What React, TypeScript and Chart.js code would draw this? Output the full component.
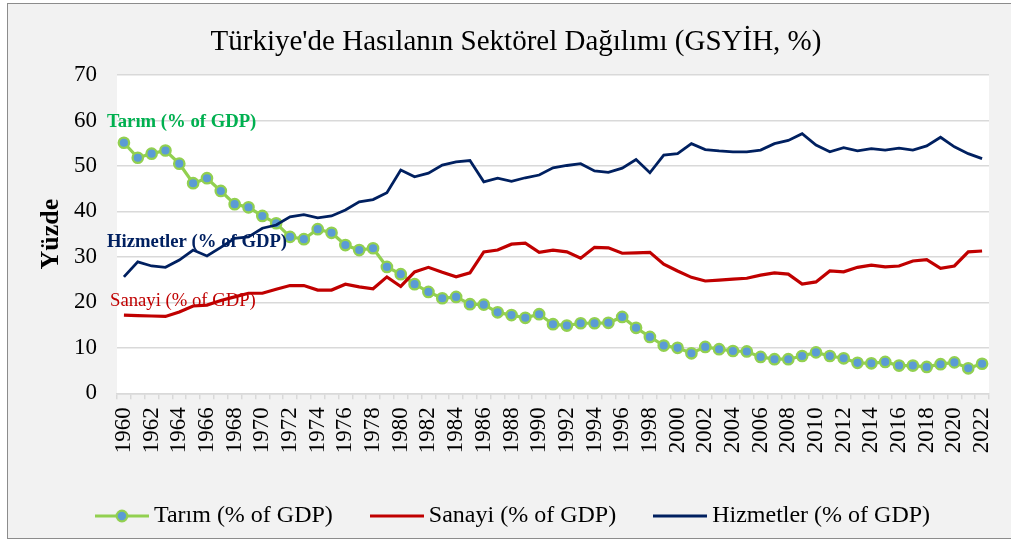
import React, { useEffect, useRef } from "react";
import { Chart, registerables } from "chart.js";

Chart.register(...registerables);

const years = [
  "1960", "1961", "1962", "1963", "1964", "1965", "1966", "1967", "1968", "1969",
  "1970", "1971", "1972", "1973", "1974", "1975", "1976", "1977", "1978", "1979",
  "1980", "1981", "1982", "1983", "1984", "1985", "1986", "1987", "1988", "1989",
  "1990", "1991", "1992", "1993", "1994", "1995", "1996", "1997", "1998", "1999",
  "2000", "2001", "2002", "2003", "2004", "2005", "2006", "2007", "2008", "2009",
  "2010", "2011", "2012", "2013", "2014", "2015", "2016", "2017", "2018", "2019",
  "2020", "2021", "2022",
];

const tarim = [
  55.1, 51.8, 52.7, 53.4, 50.5, 46.2, 47.3, 44.5, 41.6, 40.9,
  39.0, 37.4, 34.4, 33.9, 36.1, 35.3, 32.6, 31.5, 31.9, 27.8,
  26.2, 24.0, 22.3, 20.9, 21.2, 19.6, 19.5, 17.8, 17.2, 16.6,
  17.4, 15.2, 14.9, 15.4, 15.4, 15.5, 16.8, 14.4, 12.4, 10.5,
  10.0, 8.8, 10.2, 9.7, 9.3, 9.2, 8.0, 7.5, 7.5, 8.2,
  9.0, 8.2, 7.7, 6.7, 6.6, 6.9, 6.1, 6.1, 5.8, 6.4,
  6.8, 5.5, 6.5,
];

const sanayi = [
  17.2, 17.1, 17.0, 16.9, 17.9, 19.2, 19.4, 20.4, 21.2, 22.0,
  22.0, 22.9, 23.7, 23.7, 22.7, 22.7, 24.0, 23.4, 23.0, 25.6,
  23.5, 26.7, 27.7, 26.6, 25.6, 26.5, 31.1, 31.5, 32.8, 33.0,
  31.0, 31.5, 31.1, 29.7, 32.1, 32.0, 30.8, 30.9, 31.0, 28.4,
  26.9, 25.5, 24.7, 24.9, 25.1, 25.3, 26.0, 26.5, 26.2, 24.0,
  24.5, 26.9, 26.7, 27.7, 28.2, 27.8, 28.0, 29.1, 29.4, 27.5,
  28.0, 31.1, 31.3,
];

const hizmetler = [
  25.6, 28.9, 28.0, 27.7, 29.3, 31.5, 30.2, 32.1, 34.1, 34.4,
  36.3, 37.0, 38.8, 39.3, 38.6, 39.0, 40.3, 42.1, 42.6, 44.1,
  49.1, 47.6, 48.4, 50.2, 50.9, 51.2, 46.5, 47.3, 46.6, 47.4,
  48.0, 49.6, 50.1, 50.5, 48.9, 48.6, 49.5, 51.4, 48.5, 52.4,
  52.7, 54.9, 53.6, 53.3, 53.1, 53.1, 53.5, 54.9, 55.6, 57.1,
  54.6, 53.1, 54.0, 53.3, 53.8, 53.5, 53.9, 53.5, 54.4, 56.3,
  54.2, 52.7, 51.6,
];

const seriesNames = ["Tarım (% of GDP)", "Sanayi (% of GDP)", "Hizmetler (% of GDP)"];
const chartTitle = "Türkiye'de Hasılanın Sektörel Dağılımı (GSYİH, %)";
const yAxisTitle = "Yüzde";
// y values at which the in-plot series labels are placed
const labelAnchors = [59.7, 20.3, 33.3];

const GREEN = "#92d050";
const BLUE = "#5b9bd5";
const RED = "#c00000";
const NAVY = "#002060";
const LABEL_GREEN = "#00b050";
const SERIF = '"Liberation Serif", "Times New Roman", serif';

function legendIcon(color: string, width: number, marker: boolean) {
  const c = document.createElement("canvas");
  c.width = 54;
  c.height = 16;
  const ctx = c.getContext("2d")!;
  ctx.strokeStyle = color;
  ctx.lineWidth = width;
  ctx.beginPath();
  ctx.moveTo(0, 8);
  ctx.lineTo(54, 8);
  ctx.stroke();
  if (marker) {
    ctx.beginPath();
    ctx.arc(27, 8, 5.3, 0, Math.PI * 2);
    ctx.fillStyle = BLUE;
    ctx.fill();
    ctx.lineWidth = 2.2;
    ctx.strokeStyle = GREEN;
    ctx.stroke();
  }
  return c;
}

const plotBg = {
  id: "plotBg",
  beforeDraw(chart: any) {
    const { ctx, chartArea } = chart;
    ctx.save();
    ctx.fillStyle = "#ffffff";
    ctx.fillRect(chartArea.left, chartArea.top, chartArea.right - chartArea.left, chartArea.bottom - chartArea.top);
    ctx.restore();
  },
};

const seriesLabels = {
  id: "seriesLabels",
  afterDatasetsDraw(chart: any) {
    const { ctx, chartArea, scales } = chart;
    const specs = [
      { text: seriesNames[0], color: LABEL_GREEN, weight: "bold", dx: -10, v: labelAnchors[0] },
      { text: seriesNames[1], color: RED, weight: "normal", dx: -7, v: labelAnchors[1] },
      { text: seriesNames[2], color: NAVY, weight: "bold", dx: -10, v: labelAnchors[2] },
    ];
    ctx.save();
    ctx.textAlign = "left";
    ctx.textBaseline = "middle";
    for (const s of specs) {
      ctx.font = `${s.weight} 18.7px ${SERIF}`;
      ctx.fillStyle = s.color;
      ctx.fillText(s.text, chartArea.left + s.dx, scales.y.getPixelForValue(s.v));
    }
    ctx.restore();
  },
};

export default function App() {
  const ref = useRef<HTMLCanvasElement>(null);

  useEffect(() => {
    const icons = [legendIcon(GREEN, 3.2, true), legendIcon(RED, 3.2, false), legendIcon(NAVY, 2.8, false)];
    const chart = new Chart(ref.current!, {
      type: "line",
      data: {
        labels: years,
        datasets: [
          {
            label: seriesNames[0],
            data: tarim,
            borderColor: GREEN,
            borderWidth: 3.2,
            pointRadius: 5.2,
            pointBorderWidth: 2.3,
            pointBackgroundColor: BLUE,
            pointBorderColor: GREEN,
            tension: 0,
            order: 3,
          },
          {
            label: seriesNames[1],
            data: sanayi,
            borderColor: RED,
            borderWidth: 3.2,
            pointRadius: 0,
            tension: 0,
            order: 2,
          },
          {
            label: seriesNames[2],
            data: hizmetler,
            borderColor: NAVY,
            borderWidth: 2.8,
            pointRadius: 0,
            tension: 0,
            order: 1,
          },
        ],
      },
      options: {
        animation: false,
        responsive: false,
        layout: { padding: { left: 35, right: 36, top: 0, bottom: 0 } },
        plugins: {
          title: {
            display: true,
            text: chartTitle,
            color: "#000",
            font: { family: SERIF, size: 29, weight: "normal", lineHeight: 1.2 },
            padding: { top: 20.5, bottom: 15.7 },
          },
          legend: {
            position: "bottom",
            labels: {
              usePointStyle: true,
              pointStyleWidth: 40,
              boxHeight: 14,
              padding: 44,
              color: "#000",
              font: { family: SERIF, size: 24 },
              generateLabels: (ch: any) =>
                ch.data.datasets.map((ds: any, i: number) => ({
                  text: ds.label,
                  pointStyle: icons[i],
                  datasetIndex: i,
                  hidden: false,
                  lineWidth: 0,
                  fillStyle: ds.borderColor,
                  strokeStyle: ds.borderColor,
                  fontColor: "#000",
                })),
            },
          },
          tooltip: { enabled: false },
        },
        scales: {
          x: {
            type: "category",
            offset: true,
            grid: {
              offset: true,
              drawOnChartArea: false,
              drawTicks: true,
              tickLength: 6,
              color: "#d9d9d9",
              lineWidth: 1.5,
            },
            border: { color: "#d9d9d9", width: 1.5 },
            ticks: {
              autoSkip: false,
              maxRotation: 90,
              minRotation: 90,
              padding: 8,
              color: "#000",
              font: { family: SERIF, size: 23 },
              callback: (_v: any, i: number) => (i % 2 === 0 ? years[i] : ""),
            },
            afterFit: (s: any) => {
              s.height = 66.7;
            },
          },
          y: {
            min: 0,
            max: 70,
            ticks: {
              stepSize: 10,
              padding: 20,
              color: "#000",
              font: { family: SERIF, size: 23 },
            },
            grid: { color: "#d9d9d9", lineWidth: 1.5, drawTicks: false },
            border: { display: false },
            title: {
              display: true,
              text: yAxisTitle,
              color: "#000",
              font: { family: SERIF, size: 26, weight: "bold" },
              padding: { top: -7, bottom: 0 },
            },
            afterFit: (s: any) => {
              s.width = 74;
            },
          },
        },
      } as any,
      plugins: [plotBg, seriesLabels],
    });
    return () => chart.destroy();
  }, []);

  return (
    <div style={{ position: "fixed", left: 0, top: 0, width: 1011, height: 540, overflow: "hidden", background: "#fff" }}>
      <div
        style={{
          position: "absolute",
          left: 7,
          top: 3,
          width: 1017,
          height: 534,
          border: "1px solid #8c8c8c",
          background: "#f2f2f2",
        }}
      >
        <canvas ref={ref} width={1017} height={534} style={{ display: "block", width: 1017, height: 534 }} />
      </div>
    </div>
  );
}
